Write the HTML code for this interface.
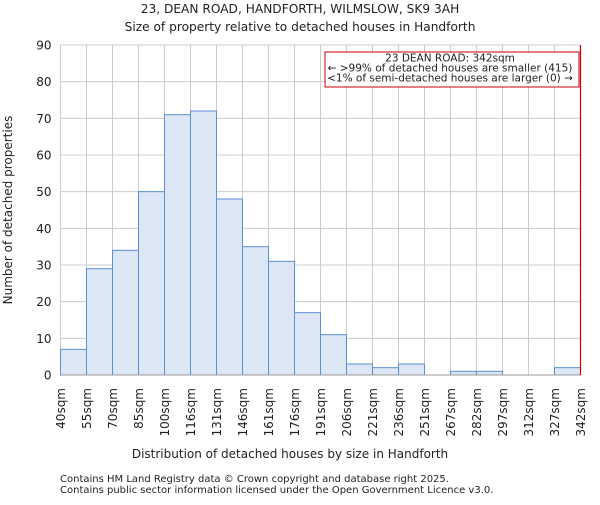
<!DOCTYPE html><html><head><style>body{margin:0;background:#fff}svg text{font-family:"DejaVu Sans","Liberation Sans",sans-serif;fill:#222}</style></head><body>
<svg id="c" width="600" height="500" xmlns="http://www.w3.org/2000/svg">
<text x="300" y="13" text-anchor="middle" font-size="12.2">23, DEAN ROAD, HANDFORTH, WILMSLOW, SK9 3AH</text>
<text x="300" y="31" text-anchor="middle" font-size="12.2">Size of property relative to detached houses in Handforth</text>
<g id="grid"></g><g id="bars"></g><g id="axes"></g>
<text x="290" y="458" text-anchor="middle" font-size="12">Distribution of detached houses by size in Handforth</text>
<text transform="translate(12,210) rotate(-90)" text-anchor="middle" font-size="12">Number of detached properties</text>
<text x="60" y="482" font-size="10" fill="#555">Contains HM Land Registry data © Crown copyright and database right 2025.</text>
<text x="60" y="493" font-size="10" fill="#555">Contains public sector information licensed under the Open Government Licence v3.0.</text>
</svg>
<script>
const categories=["40sqm","55sqm","70sqm","85sqm","100sqm","116sqm","131sqm","146sqm","161sqm","176sqm","191sqm","206sqm","221sqm","236sqm","251sqm","267sqm","282sqm","297sqm","312sqm","327sqm","342sqm"];
const counts=[7,29,34,50,71,72,48,35,31,17,11,3,2,3,0,1,1,0,0,2];
const yTicks=[0,10,20,30,40,50,60,70,80,90];
const markerIndex=20;
const annot=["23 DEAN ROAD: 342sqm","← >99% of detached houses are smaller (415)","<1% of semi-detached houses are larger (0) →"];
const L=60.5,R=580.5,T=45,B=375,yMax=90;
const xs=i=>L+(R-L)*i/counts.length;
const ys=v=>B-(B-T)*v/yMax;
const NS="http://www.w3.org/2000/svg";
function mk(p,t,a){const e=document.createElementNS(NS,t);for(const k in a)e.setAttribute(k,a[k]);p.appendChild(e);return e;}
const g=document.getElementById('grid'),b=document.getElementById('bars'),ax=document.getElementById('axes');
yTicks.forEach(v=>{const l=mk(g,'line',{x1:L,x2:R,y1:ys(v),y2:ys(v),stroke:'#ccc','stroke-width':1});


const t=mk(ax,'text',{x:L-9,y:ys(v)+4.5,'text-anchor':'end','font-size':12});t.textContent=v;

});
categories.forEach((c,i)=>{const x=xs(i);const l=mk(g,'line',{x1:x,x2:x,y1:T,y2:B,stroke:'#ccc','stroke-width':1});


const t=mk(ax,'text',{transform:`translate(${x+4.5},${B+13}) rotate(-90)`,'text-anchor':'end','font-size':12});t.textContent=c;

});
counts.forEach((v,i)=>{if(v<=0)return;const r=mk(b,'rect',{x:xs(i),y:ys(v),width:xs(i+1)-xs(i),height:B-ys(v),fill:'#dce6f4',stroke:'#5b8fd6','stroke-width':1});

});
const al=mk(ax,'line',{x1:L,x2:R,y1:B,y2:B,stroke:'#999'});


const mx=xs(markerIndex);
const ml=mk(ax,'line',{x1:mx,x2:mx,y1:T,y2:B,stroke:'#c00','stroke-width':1.2});


const box=mk(ax,'rect',{x:325,y:52,width:254,height:35,fill:'#fff',stroke:'#c00','stroke-width':1});


annot.forEach((s,i)=>{const t=mk(ax,'text',{x:450,y:61.5+i*10,'text-anchor':'middle','font-size':10.5});t.textContent=s;

});
</script></body></html>
